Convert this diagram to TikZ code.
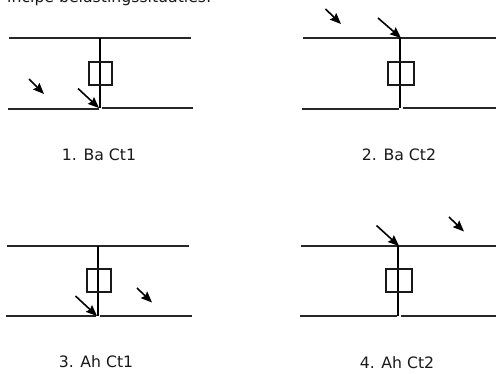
\documentclass[tikz,border=0pt]{standalone}
\usepackage{fontspec}
\setmainfont{DejaVu Sans}
\usetikzlibrary{arrows.meta}
\tikzset{
  x=1pt,y=-1pt,
  wall/.style={line width=2pt,draw=black!85},
  post/.style={line width=2.4pt,draw=black},
  boxk/.style={line width=2pt,draw=black!90},
  force/.style={line width=1.6pt,draw=black,-{Stealth[length=11pt,width=9pt,inset=1.5pt]}},
  captext/.style={font=\fontsize{15.7pt}{18pt}\selectfont,text=black!90,inner sep=0pt,anchor=center}
}
\begin{document}
\begin{tikzpicture}
\useasboundingbox (0,0) rectangle (496,373);
\begin{scope}
\clip (0,0) rectangle (496,373);
\node[captext,anchor=base west] (title) at (7,2.5) {incipe belastingssituaties:};
\end{scope}
% panel 1
\coordinate (a1) at (9,38); \coordinate (b1) at (191,38);
\coordinate (c1) at (8,108.5); \coordinate (d1) at (99,108.5);
\coordinate (e1) at (102,108); \coordinate (f1) at (193,108);
\coordinate (g1) at (100,38); \coordinate (h1) at (100,108);
\draw[wall] (a1)--(b1); \draw[wall] (c1)--(d1); \draw[wall] (e1)--(f1);
\draw[post] (g1)--(h1);
\draw[boxk] (88.5,61.5) rectangle (112,84.5);
\coordinate (s1) at (29,79); \coordinate (t1) at (44,94);
\coordinate (u1) at (78,88.5); \coordinate (v1) at (99,108);
\draw[force] (s1)--(t1); \draw[force] (u1)--(v1);
\node[captext] (l1) at (99,155) {1. Ba Ct1};
% panel 2
\coordinate (a2) at (303,38); \coordinate (b2) at (496,38);
\coordinate (c2) at (302,108.5); \coordinate (d2) at (399,108.5);
\coordinate (e2) at (403,108); \coordinate (f2) at (496,108);
\coordinate (g2) at (400,38); \coordinate (h2) at (400,108);
\draw[wall] (a2)--(b2); \draw[wall] (c2)--(d2); \draw[wall] (e2)--(f2);
\draw[post] (g2)--(h2);
\draw[boxk] (388.3,61.5) rectangle (414,84.5);
\coordinate (s2) at (325.5,9); \coordinate (t2) at (341,24);
\coordinate (u2) at (378,18); \coordinate (v2) at (401,38);
\draw[force] (s2)--(t2); \draw[force] (u2)--(v2);
\node[captext] (l2) at (399,155) {2. Ba Ct2};
% panel 3
\coordinate (a3) at (6.5,245.7); \coordinate (b3) at (189,245.7);
\coordinate (c3) at (6,316.3); \coordinate (d3) at (96,316.3);
\coordinate (e3) at (100,316); \coordinate (f3) at (192,316);
\coordinate (g3) at (98,245.7); \coordinate (h3) at (98,316);
\draw[wall] (a3)--(b3); \draw[wall] (c3)--(d3); \draw[wall] (e3)--(f3);
\draw[post] (g3)--(h3);
\draw[boxk] (86.5,269) rectangle (110.5,292.3);
\coordinate (s3) at (137,288); \coordinate (t3) at (152,302.5);
\coordinate (u3) at (75.5,296); \coordinate (v3) at (97,316);
\draw[force] (s3)--(t3); \draw[force] (u3)--(v3);
\node[captext] (l3) at (96,362) {3. Ah Ct1};
% panel 4
\coordinate (a4) at (301,246); \coordinate (b4) at (496,246);
\coordinate (c4) at (300,316.3); \coordinate (d4) at (397,316.3);
\coordinate (e4) at (401,316); \coordinate (f4) at (496,316);
\coordinate (g4) at (398,246); \coordinate (h4) at (398,316);
\draw[wall] (a4)--(b4); \draw[wall] (c4)--(d4); \draw[wall] (e4)--(f4);
\draw[post] (g4)--(h4);
\draw[boxk] (386.3,269) rectangle (412,292.3);
\coordinate (s4) at (449,217); \coordinate (t4) at (464,231.5);
\coordinate (u4) at (376.5,225.5); \coordinate (v4) at (399,246);
\draw[force] (s4)--(t4); \draw[force] (u4)--(v4);
\node[captext] (l4) at (397,362.5) {4. Ah Ct2};
\end{tikzpicture}
\end{document}
